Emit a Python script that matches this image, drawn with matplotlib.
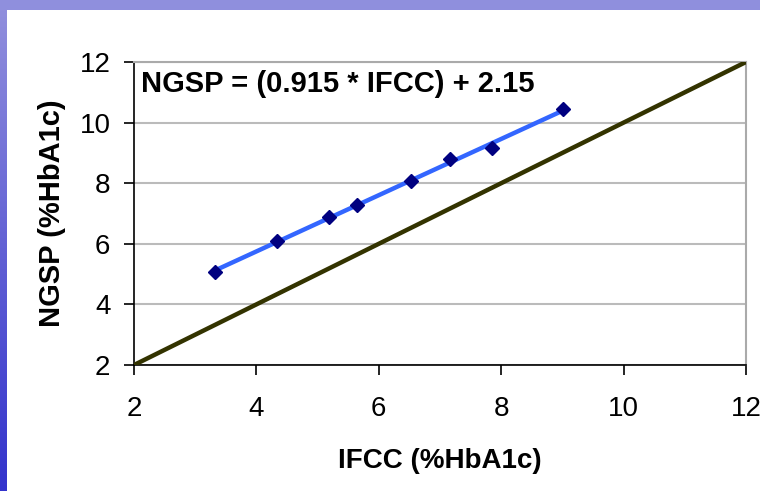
# NGSP vs IFCC HbA1c master equation chart
import numpy as np
import matplotlib.pyplot as plt
from matplotlib.patches import Rectangle

# Data
ifcc = [3.32, 4.33, 5.18, 5.65, 6.52, 7.17, 7.85, 9.01]
ngsp = [5.08, 6.08, 6.87, 7.28, 8.08, 8.80, 9.15, 10.45]
identity = [2, 12]
ticks = [2, 4, 6, 8, 10, 12]
equation = 'NGSP = (0.915 * IFCC) + 2.15'

plt.rcParams['font.family'] = ['Liberation Sans', 'DejaVu Sans']

fig = plt.figure(figsize=(7.6, 4.91), dpi=100)

# Slide background: top band and left gradient strip
bg = fig.add_axes([0, 0, 1, 1], zorder=-10)
bg.set_xlim(0, 760)
bg.set_ylim(491, 0)
bg.axis('off')
grad = np.linspace(0, 1, 256).reshape(-1, 1)
top_c = np.array([0x92, 0x90, 0xdd]) / 255
bot_c = np.array([0x33, 0x33, 0xcc]) / 255
strip = top_c + grad[..., None] * (bot_c - top_c)
bg.imshow(strip, extent=[0, 7, 491, 0], aspect='auto')
bg.add_patch(Rectangle((0, 0), 760, 10, color='#8f8fdd', lw=0))

ax = fig.add_axes([134/760, 1 - 365/491, 612/760, 303/491])

# 1:1 line
ax.plot(identity, identity, color='#333300', lw=3.2, solid_capstyle='butt', zorder=3)

# Linear trend line through the data
k, b = np.polyfit(ifcc, ngsp, 1)
xs = np.array([min(ifcc), max(ifcc)])
ax.plot(xs, k * xs + b, color='#3366ff', lw=3.2, zorder=4)
ax.plot(ifcc, ngsp, ls='none', marker='D', ms=7, color='#000080', zorder=5)

ax.text(2.12, 11.28, equation, fontsize=21, fontweight='bold', ha='left', va='center')

ax.set_xlim(2, 12)
ax.set_ylim(2, 12)
ax.set_xticks(ticks)
ax.set_yticks(ticks)
ax.grid(axis='y', color='#bbbbbb', lw=1.5)
ax.set_axisbelow(True)

for s in ['top', 'right']:
    ax.spines[s].set_color('#aaaaaa')
    ax.spines[s].set_linewidth(1.5)
for s in ['left', 'bottom']:
    ax.spines[s].set_color('black')
    ax.spines[s].set_linewidth(1.2)

ax.tick_params(axis='both', direction='out', length=7, width=1.2, labelsize=20)
ax.tick_params(axis='x', pad=15)
ax.tick_params(axis='y', pad=10)
ax.set_xlabel('IFCC (%HbA1c)', fontsize=20, fontweight='bold', labelpad=19)
ax.set_ylabel('NGSP (%HbA1c)', fontsize=21, fontweight='bold', labelpad=10)

plt.savefig('out.png', dpi=100)
